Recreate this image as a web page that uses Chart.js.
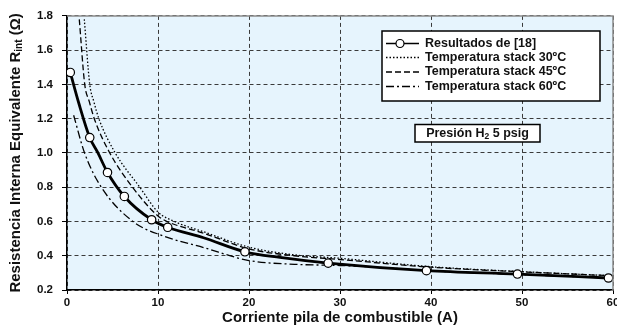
<!DOCTYPE html>
<html>
<head>
<meta charset="utf-8">
<script src="https://cdn.jsdelivr.net/npm/chart.js@4"></script>
<style>
  html, body { margin: 0; padding: 0; overflow: hidden; background: #fff; }
  #wrap { width: 625px; height: 327px; position: relative; }
</style>
</head>
<body>
<div id="wrap"><canvas id="chart"></canvas></div>
<script>
// valores
const corrienteMedida = [0.36, 2.5, 4.45, 6.3, 9.3, 11.07, 19.55, 28.7, 39.5, 49.5, 59.5];
const resistenciaMedida = [1.47, 1.09, 0.886, 0.746, 0.61, 0.566, 0.423, 0.357, 0.313, 0.293, 0.27];

// trazo continuo que pasa por los resultados
const corrienteAjuste = [0.36, 1.3, 2.5, 3.4, 4.45, 6.3, 9.3, 11.07, 15, 19.55, 23.4, 28.7, 39.5, 49.5, 59.5];
const resistenciaAjuste = [1.47, 1.29, 1.09, 1.0, 0.886, 0.746, 0.61, 0.566, 0.505, 0.423, 0.39, 0.357, 0.313, 0.293, 0.27];

const corriente30 = [1.9, 2.5, 2.95, 3.5, 5.3, 8.0, 10, 11.8, 15, 20, 25, 30, 40, 50, 60];
const resistencia30 = [1.78, 1.4, 1.3, 1.2, 1.0, 0.8, 0.655, 0.6, 0.54, 0.45, 0.405, 0.385, 0.336, 0.307, 0.283];

const corriente45 = [1.35, 1.95, 2.45, 3.0, 4.7, 7.2, 10, 11, 15, 20, 25, 30, 40, 50, 60];
const resistencia45 = [1.78, 1.4, 1.3, 1.2, 1.0, 0.8, 0.632, 0.6, 0.532, 0.44, 0.4, 0.378, 0.333, 0.306, 0.283];

const corriente60 = [0.73, 1.93, 3.77, 7.25, 10.5, 15, 20, 25, 30, 35, 40, 50, 60];
const resistencia60 = [1.22, 1.0, 0.8, 0.6, 0.517, 0.448, 0.372, 0.35, 0.343, 0.33, 0.312, 0.29, 0.27];

const ticksX = [0, 10, 20, 30, 40, 50, 60];
const ticksY = [0.2, 0.4, 0.6, 0.8, 1.0, 1.2, 1.4, 1.6, 1.8];

const FONT = '"Liberation Sans", Arial, sans-serif';

function pares(xs, ys) {
    return xs.map((x, i) => ({ x: x, y: ys[i] }));
}

// entradas de leyenda (estilo de cada trazo)
const series = [
    { label: 'Resultados de [18]', dash: [], width: 2.8, marker: true },
    { label: 'Temperatura stack 30ºC', dash: [1.5, 2], width: 1.3 },
    { label: 'Temperatura stack 45ºC', dash: [6, 3], width: 1.3 },
    { label: 'Temperatura stack 60ºC', dash: [8, 3, 2, 3], width: 1.3 }
];

function linea(data, s) {
    return {
        label: s.label, data: data, showLine: true,
        borderColor: '#000', borderWidth: s.width, borderDash: s.dash,
        cubicInterpolationMode: 'monotone',
        pointRadius: 0, pointHoverRadius: 0
    };
}

const fondoPlot = {
    id: 'fondoPlot',
    beforeDraw(chart) {
        const a = chart.chartArea, ctx = chart.ctx;
        ctx.save();
        ctx.fillStyle = '#e6f4fd';
        ctx.fillRect(a.left, a.top, a.right - a.left, a.bottom - a.top);
        ctx.restore();
    },
    afterDatasetsDraw(chart) {
        const a = chart.chartArea, ctx = chart.ctx;
        ctx.save();
        ctx.strokeStyle = '#8a8a8a';
        ctx.lineWidth = 1.5;
        ctx.beginPath();
        ctx.moveTo(a.left, a.top);
        ctx.lineTo(a.right, a.top);
        ctx.lineTo(a.right, a.bottom);
        ctx.stroke();
        ctx.restore();
    }
};

const tituloY = {
    id: 'tituloY',
    afterDraw(chart) {
        const ctx = chart.ctx, a = chart.chartArea;
        const big = 'bold 15px ' + FONT, small = 'bold 10px ' + FONT;
        const p1 = 'Resistencia Interna Equivalente R', p2 = 'int', p3 = ' (Ω)';
        ctx.save();
        ctx.font = big; const w1 = ctx.measureText(p1).width, w3 = ctx.measureText(p3).width;
        ctx.font = small; const w2 = ctx.measureText(p2).width;
        const total = w1 + w2 + w3;
        ctx.translate(16, (a.top + a.bottom) / 2);
        ctx.rotate(-Math.PI / 2);
        ctx.fillStyle = '#111';
        ctx.textBaseline = 'middle';
        let x = -total / 2;
        ctx.font = big; ctx.fillText(p1, x, 0); x += w1;
        ctx.font = small; ctx.fillText(p2, x, 3.5); x += w2;
        ctx.font = big; ctx.fillText(p3, x, 0);
        ctx.restore();
    }
};

const leyenda = {
    id: 'leyenda',
    afterDraw(chart) {
        const ctx = chart.ctx;
        ctx.save();
        ctx.fillStyle = '#fff';
        ctx.fillRect(382, 31, 218, 70);
        ctx.strokeStyle = '#000';
        ctx.lineWidth = 1.5;
        ctx.strokeRect(382, 31, 218, 70);
        const filas = [43.5, 57.5, 72, 86.5];
        ctx.font = 'bold 12.5px ' + FONT;
        ctx.textBaseline = 'middle';
        series.forEach((s, i) => {
            const y = filas[i];
            ctx.strokeStyle = '#000';
            ctx.lineWidth = s.marker ? 1.6 : 1.3;
            ctx.setLineDash(s.dash);
            ctx.beginPath();
            ctx.moveTo(386, y);
            ctx.lineTo(419, y);
            ctx.stroke();
            ctx.setLineDash([]);
            if (s.marker) {
                ctx.beginPath();
                ctx.arc(400, y, 4, 0, Math.PI * 2);
                ctx.fillStyle = '#fff';
                ctx.fill();
                ctx.lineWidth = 1.2;
                ctx.stroke();
            }
            ctx.fillStyle = '#111';
            ctx.fillText(s.label, 425, y);
        });
        // caja de presión
        ctx.fillStyle = '#fff';
        ctx.fillRect(415, 124.5, 125, 17.5);
        ctx.strokeStyle = '#000';
        ctx.lineWidth = 1.5;
        ctx.strokeRect(415, 124.5, 125, 17.5);
        const big = 'bold 12.5px ' + FONT, small = 'bold 8.5px ' + FONT;
        const t1 = 'Presión H', t2 = '2', t3 = ' 5 psig';
        ctx.font = big; const w1 = ctx.measureText(t1).width, w3 = ctx.measureText(t3).width;
        ctx.font = small; const w2 = ctx.measureText(t2).width;
        let x = 477.5 - (w1 + w2 + w3) / 2;
        const yc = 133.5;
        ctx.fillStyle = '#111';
        ctx.font = big; ctx.fillText(t1, x, yc); x += w1;
        ctx.font = small; ctx.fillText(t2, x, yc + 3.5); x += w2;
        ctx.font = big; ctx.fillText(t3, x, yc);
        ctx.restore();
    }
};

new Chart(document.getElementById('chart'), {
    type: 'scatter',
    data: {
        datasets: [
            {
                label: series[0].label,
                data: pares(corrienteMedida, resistenciaMedida),
                showLine: false,
                pointRadius: 4.2, pointHoverRadius: 4.2,
                pointBackgroundColor: '#fff', pointBorderColor: '#000', pointBorderWidth: 1.2
            },
            linea(pares(corrienteAjuste, resistenciaAjuste), series[0]),
            linea(pares(corriente30, resistencia30), series[1]),
            linea(pares(corriente45, resistencia45), series[2]),
            linea(pares(corriente60, resistencia60), series[3])
        ]
    },
    options: {
        animation: false,
        responsive: true,
        maintainAspectRatio: false,
        layout: { padding: { top: 14, right: 12, left: 0, bottom: 0 } },
        plugins: { legend: { display: false }, tooltip: { enabled: false } },
        scales: {
            x: {
                type: 'linear', min: 0, max: 60,
                afterBuildTicks: sc => { sc.ticks = ticksX.map(v => ({ value: v })); },
                afterFit: sc => { sc.height = 37; },
                ticks: { color: '#111', font: { family: FONT, size: 11.5, weight: 'bold' }, padding: 2, maxRotation: 0 },
                grid: { color: '#3a3a3a', lineWidth: 1, tickLength: 4, tickColor: '#000' },
                border: { color: '#000', width: 1.5, dash: [4, 3] },
                title: { display: true, text: 'Corriente pila de combustible (A)', color: '#111',
                         font: { family: FONT, size: 15, weight: 'bold' }, padding: { top: 0, bottom: 0 } }
            },
            y: {
                type: 'linear', min: 0.2, max: 1.8,
                afterBuildTicks: sc => { sc.ticks = ticksY.map(v => ({ value: v })); },
                afterFit: sc => { sc.width = 67; },
                ticks: { color: '#111', font: { family: FONT, size: 11.5, weight: 'bold' }, padding: 9,
                         callback: v => Number(v).toFixed(1) },
                grid: { color: '#3a3a3a', lineWidth: 1, tickLength: 5, tickColor: '#000' },
                border: { color: '#000', width: 1.5, dash: [4, 3] }
            }
        }
    },
    plugins: [fondoPlot, tituloY, leyenda]
});
</script>
</body>
</html>
